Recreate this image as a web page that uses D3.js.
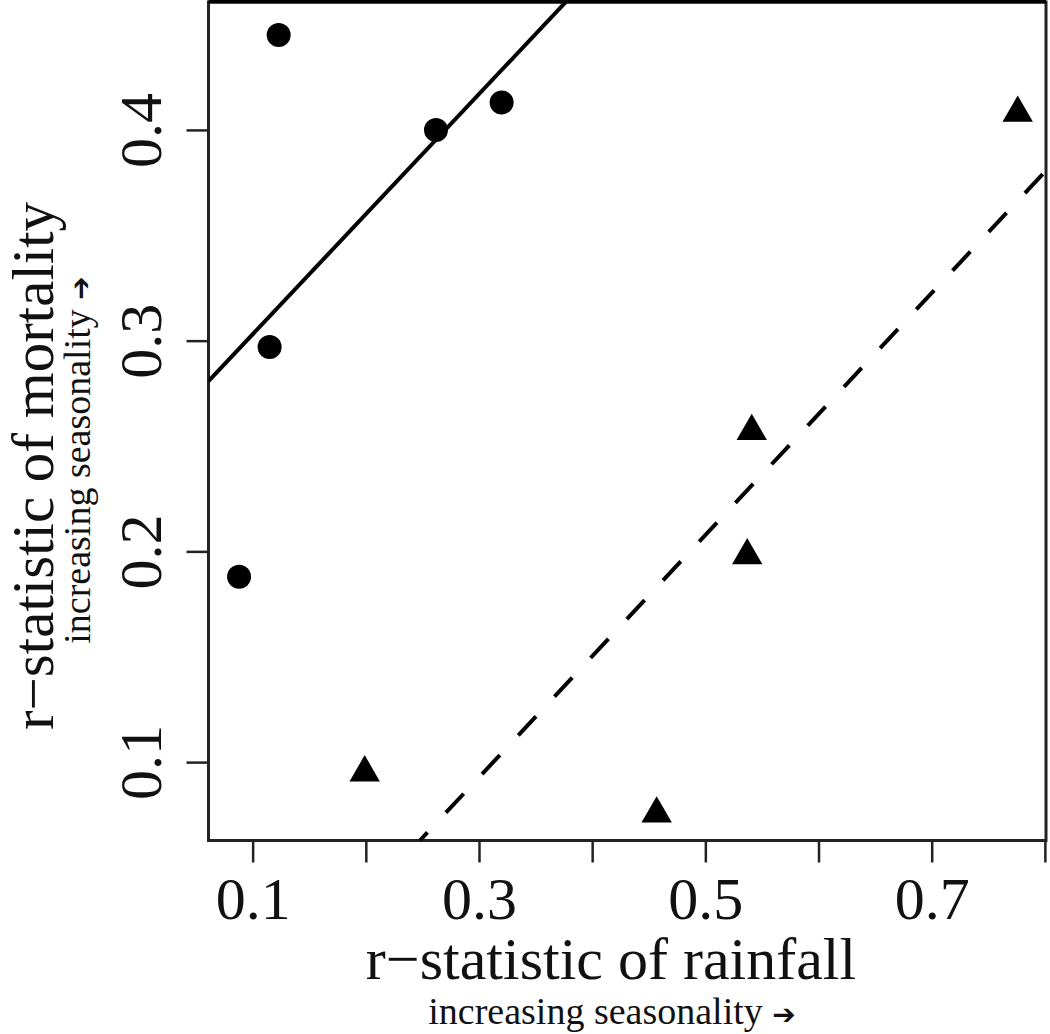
<!DOCTYPE html>
<html>
<head>
<meta charset="utf-8">
<script src="https://cdn.jsdelivr.net/npm/d3@7"></script>
<style>
	body { margin: 0; background: #fff; }
	svg { display: block; font-family: "Liberation Serif", "Times New Roman", serif; }
</style>
</head>
<body>
<svg id="chart"></svg>
<script>
'use strict'

// data
var circleX = [0.123, 0.262, 0.320, 0.115, 0.088];
var circleY = [0.445, 0.400, 0.413, 0.297, 0.188];

var triangleX = [0.776, 0.541, 0.537, 0.199, 0.457];
var triangleY = [0.408, 0.257, 0.198, 0.095, 0.0755];

// fitted lines: [intercept, slope]
var solidFit = [0.246, 0.570];
var dashedFit = [-0.0796, 0.5746];

var xTicks = [0.1, 0.2, 0.3, 0.4, 0.5, 0.6, 0.7, 0.8];
var xTickLabels = ["0.1", "", "0.3", "", "0.5", "", "0.7", ""];
var yTicks = [0.1, 0.2, 0.3, 0.4];
var yTickLabels = ["0.1", "0.2", "0.3", "0.4"];

var WIDTH = 1050,
	HEIGHT = 1034;

var plot = {
	left: 208.5,
	right: 1046,
	top: 2,
	bottom: 840.5
};

var svg = d3.select("#chart")
	.attr('width', WIDTH)
	.attr('height', HEIGHT);

var x = d3.scaleLinear()
	.domain([0.061, 0.801])
	.range([plot.left, plot.right]);

var y = d3.scaleLinear()
	.domain([0.0628, 0.4607])
	.range([plot.bottom, plot.top]);

svg.append('defs')
	.append('clipPath')
	.attr('id', 'plot-clip')
	.append('rect')
	.attr('x', plot.left)
	.attr('y', plot.top)
	.attr('width', plot.right - plot.left)
	.attr('height', plot.bottom - plot.top);

// x axis
var xAxis = svg.append('g')
	.attr('transform', 'translate(0,' + plot.bottom + ')')
	.call(d3.axisBottom(x)
		.tickValues(xTicks)
		.tickSize(22)
		.tickPadding(14)
		.tickFormat(function (d, i) { return xTickLabels[i]; }));

xAxis.select('.domain').remove();
xAxis.selectAll('line').attr('stroke', '#222').attr('stroke-width', 2.5);
xAxis.selectAll('text')
	.attr('fill', '#111')
	.style('font-size', '60px')
	.style('font-family', '"Liberation Serif", serif');

// y axis, labels rotated like R's default
var yAxis = svg.append('g')
	.attr('transform', 'translate(' + plot.left + ',0)')
	.call(d3.axisLeft(y)
		.tickValues(yTicks)
		.tickSize(22)
		.tickFormat(function (d, i) { return yTickLabels[i]; }));

yAxis.select('.domain').remove();
yAxis.selectAll('line').attr('stroke', '#222').attr('stroke-width', 2.5);
yAxis.selectAll('text')
	.attr('x', null)
	.attr('dy', null)
	.attr('fill', '#111')
	.attr('text-anchor', 'middle')
	.attr('transform', 'translate(-48,0) rotate(-90)')
	.style('font-size', '60px')
	.style('font-family', '"Liberation Serif", serif');

// box
svg.append('rect')
	.attr('x', plot.left)
	.attr('y', plot.top)
	.attr('width', plot.right - plot.left)
	.attr('height', plot.bottom - plot.top)
	.style('fill', 'none')
	.style('stroke', '#222')
	.style('stroke-width', 3);

svg.append('line')
	.attr('x1', plot.left)
	.attr('x2', plot.right)
	.attr('y1', 1.5)
	.attr('y2', 1.5)
	.style('stroke', '#000')
	.style('stroke-width', 4);

// fit lines
var lines = svg.append('g').attr('clip-path', 'url(#plot-clip)');

function fitLine(fit) {
	// start where the line enters the plot from below or from the left
	var yd = y.domain();
	var x0 = Math.max(x.domain()[0], (yd[0] - fit[0]) / fit[1]);
	var x1 = x.domain()[1];
	return d3.line()
		.x(function (d) { return x(d); })
		.y(function (d) { return y(fit[0] + fit[1] * d); })([x0, x1]);
}

lines.append('path')
	.attr('d', fitLine(solidFit))
	.style('fill', 'none')
	.style('stroke', '#000')
	.style('stroke-width', 4);

lines.append('path')
	.attr('d', fitLine(dashedFit))
	.style('fill', 'none')
	.style('stroke', '#000')
	.style('stroke-width', 4)
	.style('stroke-dasharray', '26,27')
	.style('stroke-dashoffset', 15);

// points
var circles = circleX.map(function (d, i) { return [d, circleY[i]]; });
var triangles = triangleX.map(function (d, i) { return [d, triangleY[i]]; });

svg.selectAll('.circle-pt')
	.data(circles)
	.enter()
	.append('circle')
	.attr('class', 'circle-pt')
	.attr('cx', function (d) { return x(d[0]); })
	.attr('cy', function (d) { return y(d[1]); })
	.attr('r', 12)
	.style('fill', '#000');

var tri = d3.symbol().type(d3.symbolTriangle).size(400);

svg.selectAll('.tri-pt')
	.data(triangles)
	.enter()
	.append('path')
	.attr('class', 'tri-pt')
	.attr('d', tri)
	.attr('transform', function (d) {
		return 'translate(' + x(d[0]) + ',' + y(d[1]) + ')';
	})
	.style('fill', '#000');

// axis titles
svg.append('text')
	.attr('x', 611)
	.attr('y', 979)
	.attr('text-anchor', 'middle')
	.style('font-size', '60px')
	.style('fill', '#111')
	.text('r\u2212statistic of rainfall');

function subtitle(sel) {
	sel.append('tspan').text('increasing seasonality ');
	sel.append('tspan')
		.style('font-family', '"DejaVu Sans", sans-serif')
		.style('font-size', '28px')
		.text('\u2794');
}

svg.append('text')
	.attr('x', 612)
	.attr('y', 1024)
	.attr('text-anchor', 'middle')
	.style('font-size', '38px')
	.style('fill', '#111')
	.call(subtitle);

svg.append('text')
	.attr('transform', 'translate(53,466) rotate(-90)')
	.attr('text-anchor', 'middle')
	.style('font-size', '59px')
	.style('fill', '#111')
	.text('r\u2212statistic of mortality');

svg.append('text')
	.attr('transform', 'translate(90,460) rotate(-90)')
	.attr('text-anchor', 'middle')
	.style('font-size', '38px')
	.style('fill', '#111')
	.call(subtitle);
</script>
</body>
</html>
